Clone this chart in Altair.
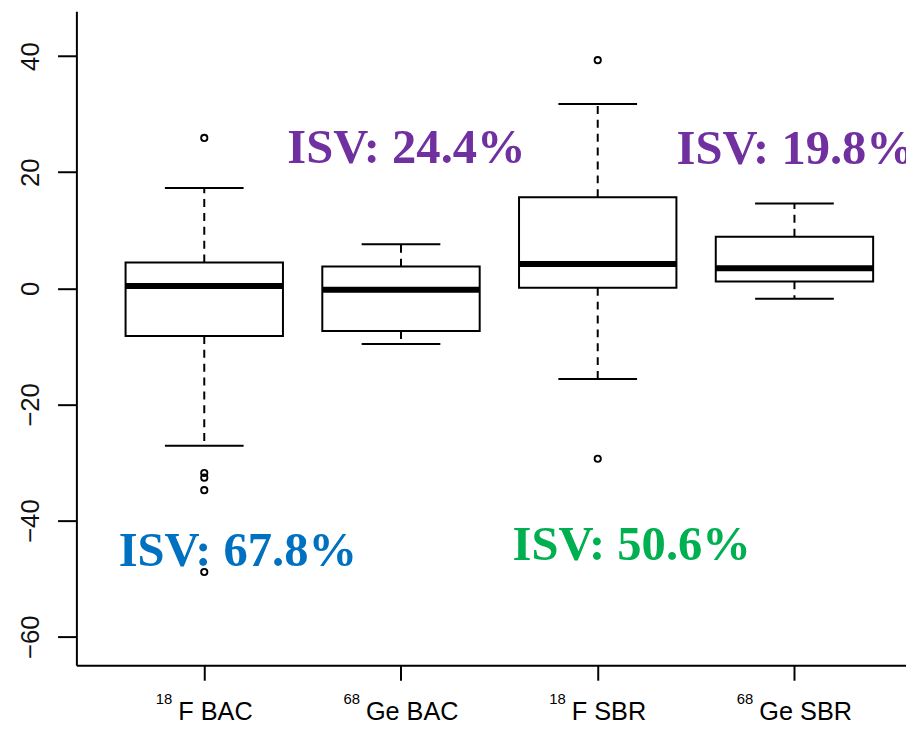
import altair as alt
import pandas as pd

# ---- data ----
sups = ["18", "68", "18", "68"]
names = ["F BAC", "Ge BAC", "F SBR", "Ge SBR"]
positions = [1, 2, 3, 4]
q1 = [-8.2, -7.35, 0.1, 1.2]
medians = [0.4, -0.25, 4.2, 3.45]
q3 = [4.45, 3.75, 15.7, 8.9]
whisk_lo = [-27.1, -9.6, -15.6, -1.8]
whisk_hi = [17.3, 7.6, 31.75, 14.6]

out_pos = [1, 1, 1, 1, 1, 3, 3]
out_val = [25.9, -31.8, -32.6, -34.75, -48.85, 39.3, -29.35]

isv_text = ["ISV: 67.8%", "ISV: 24.4%", "ISV: 50.6%", "ISV: 19.8%"]
isv_color = ["#0070C0", "#7030A0", "#00B050", "#7030A0"]
isv_x = [0.565, 1.422, 2.567, 3.401]
isv_y = [-47.8, 21.5, -46.7, 21.4]

y_ticks = [-60, -40, -20, 0, 20, 40]

# ---- tables ----
boxes = pd.DataFrame({
    "pos": positions, "q1": q1, "med": medians, "q3": q3,
    "lo": whisk_lo, "hi": whisk_hi,
})
outl = pd.DataFrame({"pos": out_pos, "val": out_val})
isv = pd.DataFrame({"text": isv_text, "color": isv_color, "x": isv_x, "y": isv_y})

X_DOM = [0.35, 4.567]
Y_DOM = [-64.92, 47.73]
xs = alt.Scale(domain=X_DOM, nice=False, zero=False)
ys = alt.Scale(domain=Y_DOM, nice=False, zero=False)

x_axis = alt.Axis(values=positions, labels=False, tickSize=15, tickWidth=2,
                  domainWidth=2, domainColor="black", tickColor="black",
                  grid=False, title=None)
y_axis = alt.Axis(values=y_ticks, tickSize=19, tickWidth=2, domainWidth=2,
                  domainColor="black", tickColor="black", grid=False, title=None,
                  labelAngle=270, labelAlign="center", labelBaseline="alphabetic",
                  labelPadding=19, labelFontSize=26, labelFont="Liberation Sans",
                  labelColor="#111111")

def X(f):
    return alt.X(f, scale=xs, axis=x_axis)

def Y(f):
    return alt.Y(f, scale=ys, axis=y_axis)

base = alt.Chart(boxes)

whisk_up = base.mark_rule(color="black", strokeWidth=2, strokeDash=[8, 6]).encode(
    x=X("pos:Q"), y=Y("q3:Q"), y2="hi:Q",
)
whisk_dn = base.mark_rule(color="black", strokeWidth=2, strokeDash=[8, 6]).encode(
    x=X("pos:Q"), y=Y("q1:Q"), y2="lo:Q",
)
caps_base = base.transform_calculate(c1="datum.pos - 0.2", c2="datum.pos + 0.2")
cap_hi = caps_base.mark_rule(color="black", strokeWidth=2).encode(
    x=X("c1:Q"), x2="c2:Q", y=Y("hi:Q"),
)
cap_lo = caps_base.mark_rule(color="black", strokeWidth=2).encode(
    x=X("c1:Q"), x2="c2:Q", y=Y("lo:Q"),
)
box_base = base.transform_calculate(b1="datum.pos - 0.4", b2="datum.pos + 0.4")
box = box_base.mark_rect(fill="white", stroke="black", strokeWidth=2).encode(
    x=X("b1:Q"), x2="b2:Q", y=Y("q1:Q"), y2="q3:Q",
)
med = box_base.mark_rule(color="black", strokeWidth=6, strokeCap="butt").encode(
    x=X("b1:Q"), x2="b2:Q", y=Y("med:Q"),
)
pts = alt.Chart(outl).mark_point(shape="circle", filled=False, color="black",
                                 size=40, strokeWidth=1.9, opacity=1).encode(
    x=X("pos:Q"), y=Y("val:Q"),
)

isv_layer = alt.Chart(isv).mark_text(
    align="left", baseline="alphabetic", font="Liberation Serif",
    fontWeight="bold", fontSize=49,
).encode(
    x=X("x:Q"), y=Y("y:Q"),
    text="text:N",
    color=alt.Color("color:N", scale=None),
)

# ---- category labels with superscripts ----
CW = {"F": .611, " ": .278, "B": .667, "A": .667, "C": .722, "G": .778,
      "e": .556, "S": .667, "R": .722}
def tw(s, size):
    return sum(CW.get(ch, .556) for ch in s) * size

MAIN_FS, SUP_FS, GAP = 25.5, 15, 6
lab_df = pd.DataFrame({"pos": positions, "sup": sups, "name": names})
label_layers = []
for i in range(len(positions)):
    total = tw(sups[i], SUP_FS) + GAP + tw(names[i], MAIN_FS)
    sub = alt.Chart(lab_df).transform_filter(f"datum.pos == {positions[i]}")
    label_layers.append(sub.mark_text(
        align="left", baseline="alphabetic", font="Liberation Sans",
        fontSize=SUP_FS, color="black", dx=-total / 2,
    ).encode(x=X("pos:Q"), y=alt.datum(-71.6, scale=ys), text="sup:N"))
    label_layers.append(sub.mark_text(
        align="left", baseline="alphabetic", font="Liberation Sans",
        fontSize=MAIN_FS, color="black",
        dx=-total / 2 + tw(sups[i], SUP_FS) + GAP,
    ).encode(x=X("pos:Q"), y=alt.datum(-74.3, scale=ys), text="name:N"))

chart = alt.layer(
    whisk_up, whisk_dn, cap_hi, cap_lo, box, med, pts, isv_layer, *label_layers
).properties(
    width=837, height=660,
    autosize=alt.AutoSizeParams(type="none"),
    padding={"left": 69, "top": 0, "right": 0, "bottom": 60},
    background="white",
).configure_view(stroke=None)

chart.save("out.html", embed_options={"renderer": "svg", "actions": False})
